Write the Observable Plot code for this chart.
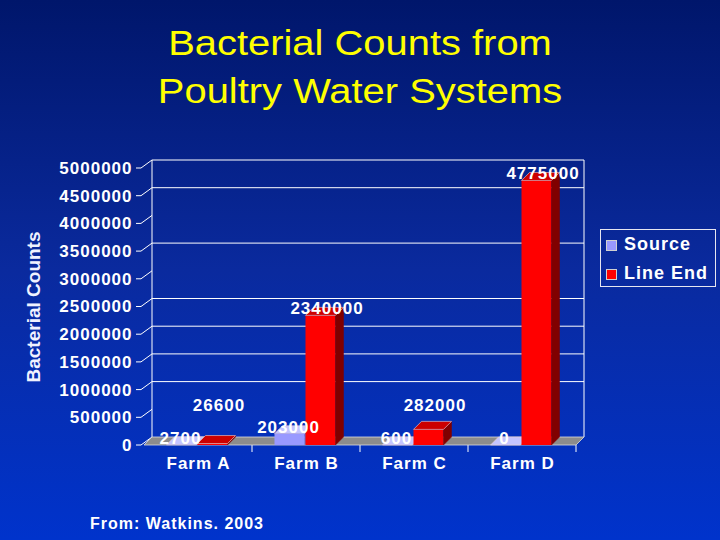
<!DOCTYPE html>
<html>
<head>
<meta charset="utf-8">
<script src="https://cdn.jsdelivr.net/npm/d3@7"></script>
<script src="https://cdn.jsdelivr.net/npm/@observablehq/plot@0.6"></script>
<style>
  html, body { margin: 0; padding: 0; }
  body { width: 720px; height: 540px; overflow: hidden; }
  #page { position: relative; width: 720px; height: 540px; overflow: hidden;
    background: linear-gradient(to bottom, #00166b 0%, #0a2a9e 50%, #0033cc 100%);
    font-family: "Liberation Sans", Arial, sans-serif; }
  #title { position: absolute; left: 0; top: 19px; width: 720px; text-align: center;
    color: #ffff00; font-size: 35px; line-height: 48px; transform: scaleX(1.14); }
  #chart { position: absolute; left: 0; top: 0; }
  #legend { position: absolute; left: 600px; top: 229px; width: 114px; height: 56px;
    border: 1px solid #e6e6f0; color: #fff; font-weight: bold; font-size: 18px; letter-spacing: 1px; }
  #legend .item { position: absolute; left: 5px; height: 20px; line-height: 20px; white-space: nowrap; }
  #legend .sw { display: inline-block; width: 11px; height: 11px; margin-right: 7px; vertical-align: -1px;
    box-sizing: border-box; border: 1px solid #d0d0d0; }
  #caption { position: absolute; left: 90px; top: 515px; color: #fff; font-weight: bold;
    font-size: 16px; line-height: 18px; letter-spacing: 1px; }
  g[aria-description="ytitle"] text { letter-spacing: 0; }
</style>
</head>
<body>
<div id="page">
  <div id="title"></div>
  <div id="chart"></div>
  <div id="legend"></div>
  <div id="caption"></div>
</div>
<script>
// ---- data ----
const titleLines = ["Bacterial Counts from", "Poultry Water Systems"];
const yTitle = "Bacterial Counts";
const caption = "From: Watkins. 2003";
const farms = ["Farm A", "Farm B", "Farm C", "Farm D"];
const series = ["Source", "Line End"];
const sourceCounts = [2700, 203000, 600, 0];
const lineEndCounts = [26600, 2340000, 282000, 4775000];
const yTicks = [0, 500000, 1000000, 1500000, 2000000, 2500000, 3000000, 3500000, 4000000, 4500000, 5000000];
const gridValues = [1000000, 1500000, 2000000, 2500000, 3500000, 4500000, 5000000];
const yMax = 5000000;

// ---- styles ----
const palette = {
  "Source":   {front: "#9999ff", top: "#c4c4ff", side: "#6666c0"},
  "Line End": {front: "#ff0000", top: "#cc0000", side: "#800000"}
};
const insets = { "Source": [22.5, 55.5], "Line End": [53.5, 24.5] };
const DX = 8, DY = -8;
const LABEL_MIN = 600000;

const rows = farms.flatMap((f, i) => [
  {farm: f, series: "Source", value: sourceCounts[i]},
  {farm: f, series: "Line End", value: lineEndCounts[i]}
]);
const sourceRows = rows.filter(d => d.series === "Source");
const lineRows = rows.filter(d => d.series === "Line End");

function findScales(args) {
  return args.find(a => a && typeof a === "object" && typeof a.x === "function" && typeof a.y === "function");
}
function bandW(x) {
  return typeof x.bandwidth === "function" ? x.bandwidth() : 108.75;
}
const pts = p => p.map(q => q.join(",")).join(" ");

function wallMark(...args) {
  const {x, y} = findScales(args);
  const bw = bandW(x);
  const x0 = x(farms[0]), x1 = x(farms[farms.length - 1]) + bw;
  const y0 = y(0), yT = y(yMax);
  const g = d3.create("svg:g");
  const line = (a, b, c, d) => g.append("line").attr("x1", a).attr("y1", b).attr("x2", c).attr("y2", d)
    .attr("stroke", "#ffffff").attr("stroke-width", 1);
  line(x0 + DX, y0 + DY, x0 + DX, yT + DY);
  line(x1 + DX, y0 + DY, x1 + DX, yT + DY);
  for (const v of gridValues) line(x0 + DX, y(v) + DY, x1 + DX, y(v) + DY);
  for (const v of yTicks) {
    const yv = y(v);
    g.append("polyline").attr("points", pts([[x0 - 8, yv], [x0 - 3, yv], [x0 + DX, yv + DY]]))
      .attr("fill", "none").attr("stroke", "#ffffff").attr("stroke-width", 1);
  }
  for (const f of farms) line(x(f) + bw, y0, x(f) + bw, y0 + 7);
  g.append("polygon").attr("points", pts([[x0, y0], [x1, y0], [x1 + DX, y0 + DY], [x0 + DX, y0 + DY]]))
    .attr("fill", "#8c8c8c").attr("stroke", "#dcdcdc").attr("stroke-width", 0.8);
  return g.node();
}

function depthMark(name, data) {
  return (...args) => {
    const {x, y} = findScales(args);
    const bw = bandW(x);
    const [il, ir] = insets[name];
    const c = palette[name];
    const g = d3.create("svg:g");
    for (const d of data) {
      const xl = x(d.farm) + il, xr = x(d.farm) + bw - ir;
      const yt = y(d.value), yb = y(0);
      g.append("polygon").attr("points", pts([[xr, yt], [xr + DX, yt + DY], [xr + DX, yb + DY], [xr, yb]]))
        .attr("fill", c.side).attr("stroke", c.side).attr("stroke-width", 0.5);
      g.append("polygon").attr("points", pts([[xl, yt], [xr, yt], [xr + DX, yt + DY], [xl + DX, yt + DY]]))
        .attr("fill", c.top).attr("stroke", "#f0d0d0").attr("stroke-width", 0.6);
    }
    return g.node();
  };
}

const chart = Plot.plot({
  width: 720,
  height: 540,
  marginLeft: 142,
  marginRight: 143,
  marginTop: 168,
  marginBottom: 95,
  x: {domain: farms, padding: 0, axis: null},
  y: {domain: [0, yMax], axis: null},
  style: {background: "transparent", color: "#ffffff", fontFamily: "'Liberation Sans', Arial, sans-serif",
          fontWeight: "bold", letterSpacing: "1px", overflow: "visible"},
  marks: [
    wallMark,
    depthMark("Source", sourceRows),
    Plot.barY(sourceRows, {x: "farm", y: "value", fill: palette["Source"].front,
      insetLeft: insets["Source"][0], insetRight: insets["Source"][1]}),
    Plot.barY(lineRows, {x: "farm", y: "value", fill: palette["Line End"].front,
      insetLeft: insets["Line End"][0], insetRight: insets["Line End"][1]}),
    depthMark("Line End", lineRows),
    Plot.text(yTicks, {y: d => d, text: d => String(d), frameAnchor: "left", textAnchor: "end",
      dx: -10, fontSize: 17, fill: "#ffffff"}),
    Plot.text(farms, {x: d => d, text: d => d, frameAnchor: "bottom", dy: 23, fontSize: 17, fill: "#ffffff"}),
    Plot.text(sourceRows, {x: "farm", y: "value", text: d => String(d.value), dx: -18, dy: -7,
      fontSize: 17, fill: "#ffffff"}),
    Plot.text(lineRows, {x: "farm", y: d => Math.max(d.value, LABEL_MIN), text: d => String(d.value),
      dx: 20.5, dy: -7, fontSize: 17, fill: "#ffffff"}),
    Plot.text([yTitle], {text: d => d, frameAnchor: "left", textAnchor: "middle", dx: -109, rotate: -90,
      fontSize: 19, fill: "#f0f2ff", ariaDescription: "ytitle"})
  ]
});
document.getElementById("chart").appendChild(chart);

document.getElementById("title").innerHTML = titleLines.map(t => `<div>${t}</div>`).join("");
document.getElementById("caption").textContent = caption;
const legend = document.getElementById("legend");
series.forEach((s, i) => {
  const item = document.createElement("div");
  item.className = "item";
  item.style.top = (4 + i * 29) + "px";
  const sw = document.createElement("span");
  sw.className = "sw";
  sw.style.background = palette[s].front;
  item.appendChild(sw);
  item.appendChild(document.createTextNode(s));
  legend.appendChild(item);
});
</script>
</body>
</html>
